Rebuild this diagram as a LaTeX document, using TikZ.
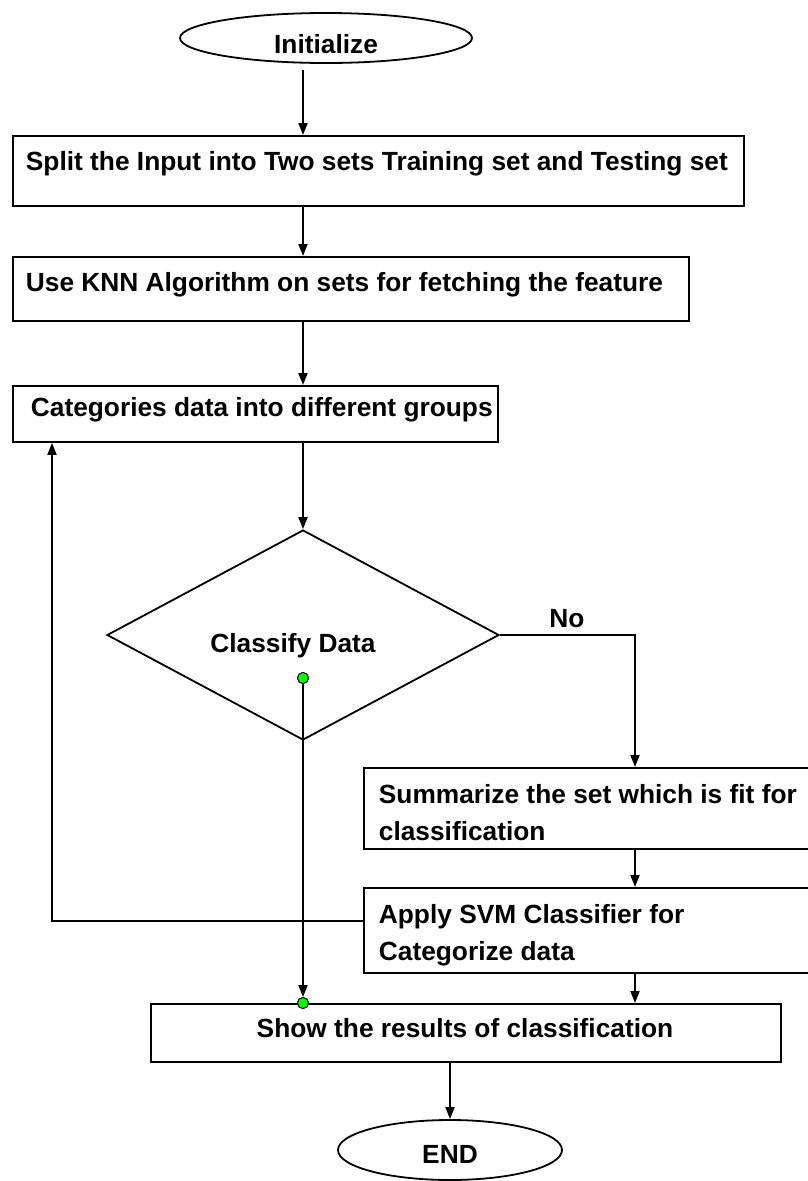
\documentclass[tikz,border=0pt]{standalone}
\usepackage{fontspec}
\setmainfont{Liberation Sans}
\usetikzlibrary{shapes.geometric,arrows.meta}
\begin{document}
\begin{tikzpicture}[x=1pt,y=-1pt,
  line width=1.8pt,
  arr/.style={-{Triangle[length=12pt,width=9pt]}},
  box/.style={draw,rectangle,inner sep=0pt,anchor=north west},
  oval/.style={draw,ellipse,inner sep=0pt},
  txt/.style={inner sep=0pt,font=\fontsize{26.3}{31}\selectfont\bfseries},
  dot/.style={draw,circle,fill=green,line width=0.9pt,minimum size=11pt,inner sep=0pt}]
\useasboundingbox (0,0) rectangle (808,1181);
\clip (0,0) rectangle (808,1181);
% column coordinates
\coordinate (cx) at (303,0);
\coordinate (rx) at (635,0);
\coordinate (lx) at (52,0);
\coordinate (ex) at (450,0);
\coordinate (fb) at (0,921);
% shapes
\node[oval,minimum width=292pt,minimum height=50pt] (init) at (326,38) {};
\node[box,minimum width=731pt,minimum height=70pt] (b1) at (12,135) {};
\node[box,minimum width=676pt,minimum height=64pt] (b2) at (12,256) {};
\node[box,minimum width=485pt,minimum height=56pt] (b3) at (12,385) {};
\node[draw,diamond,inner sep=0pt,minimum width=392pt,minimum height=210pt] (dia) at (303,635) {};
\node[box,minimum width=470pt,minimum height=81pt] (sum) at (363,767) {};
\node[box,minimum width=470pt,minimum height=85pt] (app) at (363,887) {};
\node[box,minimum width=630pt,minimum height=58pt] (show) at (150,1003) {};
\node[oval,minimum width=224pt,minimum height=60pt] (end) at (450,1150) {};
% texts
\node[txt,anchor=base] (tinit) at (326,53) {Initialize};
\node[txt,anchor=base west] (t1) at (25,170) {Split the Input into Two sets Training set and Testing set};
\node[txt,anchor=base west] (t2) at (25,291) {Use KNN Algorithm on sets for fetching the feature};
\node[txt,anchor=base west] (t3) at (30,416) {Categories data into different groups};
\node[txt,anchor=base] (tdia) at (293,652) {Classify Data};
\node[txt,anchor=base] (tno) at (567,627) {No};
\node[txt,anchor=base west] (tsum1) at (378,803) {Summarize the set which is fit for};
\node[txt,anchor=base west] (tsum2) at (378,840) {classification};
\node[txt,anchor=base west] (tapp1) at (378,923) {Apply SVM Classifier for};
\node[txt,anchor=base west] (tapp2) at (378,960) {Categorize data};
\node[txt,anchor=base] (tshow) at (465,1037) {Show the results of classification};
\node[txt,anchor=base] (tend) at (450,1163) {END};
% dots
\node[dot] (d1) at (303,678) {};
\node[dot] (d2) at (303,1003) {};
% connectors
\draw[arr] ([yshift=-6pt]init.south -| cx) -- (b1.north -| cx);
\draw[arr] (b1.south -| cx) -- (b2.north -| cx);
\draw[arr] (b2.south -| cx) -- (b3.north -| cx);
\draw[arr] (b3.south -| cx) -- (dia.north);
\draw[arr] (dia.east) -- (dia.east -| rx) -- (sum.north -| rx);
\draw[arr] (sum.south -| rx) -- (app.north -| rx);
\draw[arr] (app.south -| rx) -- (show.north -| rx);
\draw[arr] (app.west |- fb) -- (lx |- fb) -- (lx |- b3.south);
\draw[arr] (d1) -- (d2);
\draw[arr] (show.south -| ex) -- (end.north);
% redraw dots on top
\node[dot] at (d1) {};
\node[dot] at (d2) {};
\end{tikzpicture}
\end{document}
